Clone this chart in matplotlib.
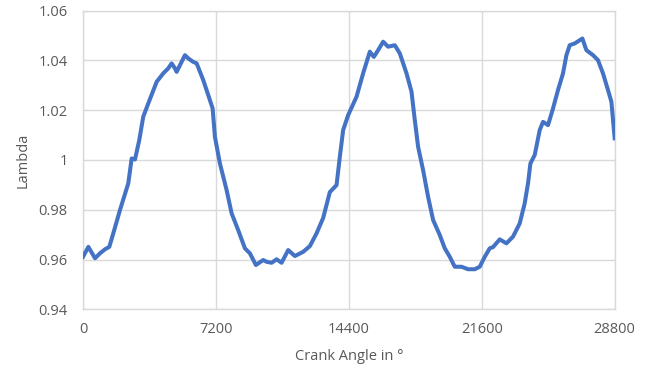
import matplotlib
matplotlib.use("Agg")
import matplotlib.pyplot as plt
import numpy as np

# crank angle (deg) and lambda
crank = [0, 290, 650, 920, 1190, 1424, 1640, 2003, 2452, 2636, 2815, 3048, 3264,
         3535, 3990, 4347, 4618, 4802, 4980, 5072, 5522, 5700, 5971, 6155, 6513,
         6783, 7021, 7146, 7416, 7779, 8049, 8407, 8770, 9040, 9365, 9760, 9944,
         10215, 10486, 10757, 11114, 11477, 11926, 12289, 12651, 13009, 13371,
         13734, 13913, 14091, 14362, 14817, 15174, 15537, 15754, 15986, 16257,
         16528, 16890, 17161, 17524, 17795, 17973, 18152, 18423, 18693, 18964,
         19327, 19597, 19868, 20138, 20501, 20858, 21220, 21491, 21762, 22032,
         22211, 22574, 22936, 23294, 23656, 23927, 24106, 24236, 24469, 24740,
         24919, 25190, 25460, 25731, 26002, 26186, 26365, 26634, 27051, 27268,
         27625, 27896, 28167, 28438, 28622, 28800]
lam = [0.9611, 0.9651, 0.9605, 0.9625, 0.9641, 0.9651, 0.9705, 0.9799, 0.9906,
       1.0006, 1.0002, 1.0080, 1.0174, 1.0227, 1.0314, 1.0348, 1.0368, 1.0388,
       1.0368, 1.0354, 1.0421, 1.0408, 1.0394, 1.0388, 1.0321, 1.0261, 1.0207,
       1.0093, 0.9986, 0.9879, 0.9786, 0.9718, 0.9645, 0.9625, 0.9578, 0.9598,
       0.9591, 0.9587, 0.9601, 0.9587, 0.9638, 0.9614, 0.9631, 0.9654, 0.9705,
       0.9767, 0.9871, 0.9899, 1.0013, 1.0120, 1.0180, 1.0254, 1.0348, 1.0435,
       1.0414, 1.0441, 1.0475, 1.0455, 1.0461, 1.0428, 1.0348, 1.0274, 1.0160,
       1.0053, 0.9959, 0.9852, 0.9759, 0.9698, 0.9645, 0.9611, 0.9571, 0.9571,
       0.9561, 0.9561, 0.9571, 0.9611, 0.9645, 0.9650, 0.9681, 0.9665, 0.9692,
       0.9745, 0.9826, 0.9906, 0.9986, 1.0020, 1.0120, 1.0153, 1.0140, 1.0207,
       1.0281, 1.0348, 1.0421, 1.0461, 1.0468, 1.0488, 1.0441, 1.0421, 1.0401,
       1.0348, 1.0281, 1.0234, 1.0087]

xticks = [0, 7200, 14400, 21600, 28800]
yticks = [0.94, 0.96, 0.98, 1.0, 1.02, 1.04, 1.06]
ytick_labels = ['0.94', '0.96', '0.98', '1', '1.02', '1.04', '1.06']

plt.rcParams['font.family'] = ['Open Sans', 'DejaVu Sans']
grid_c = '#D9D9D9'
text_c = '#595959'

fig = plt.figure(figsize=(6.46, 3.72), dpi=100)
ax = fig.add_axes([0.1285, 0.1685, 0.823, 0.803])

ax.plot(crank, lam, color='#4472C4', linewidth=2.9, solid_joinstyle='round',
        zorder=3)

ax.set_xlim(0, 28800)
ax.set_ylim(0.94, 1.06)
ax.set_xticks(xticks)
ax.set_xticklabels([str(t) for t in xticks])
ax.set_yticks(yticks)
ax.set_yticklabels(ytick_labels)
ax.grid(True, color=grid_c, linewidth=1.0, zorder=0)
for s in ax.spines.values():
    s.set_color(grid_c)
    s.set_linewidth(1.0)
ax.tick_params(axis='both', length=0, labelsize=10.5, labelcolor=text_c)
ax.tick_params(axis='y', pad=11)
ax.tick_params(axis='x', pad=9)

ax.set_xlabel('Crank Angle in °', fontsize=10.5, color=text_c, labelpad=9)
ax.set_ylabel('Lambda', fontsize=10.5, color=text_c, labelpad=6)

fig.savefig('out.png', dpi=100)
